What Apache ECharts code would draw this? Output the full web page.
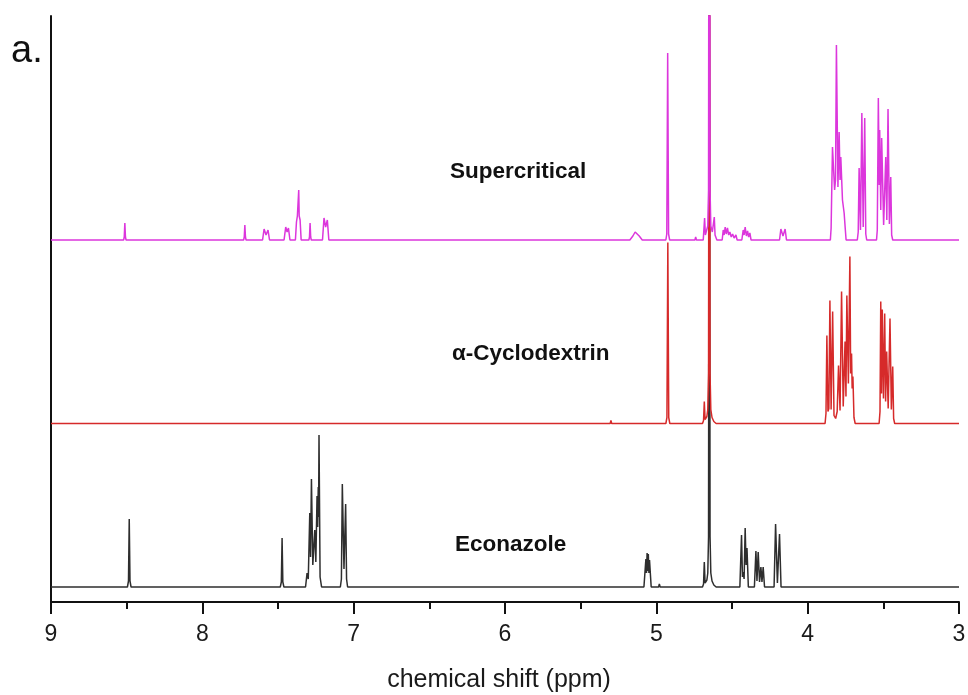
<!DOCTYPE html>
<html>
<head>
<meta charset="utf-8">
<script src="https://cdn.jsdelivr.net/npm/echarts@6/dist/echarts.min.js"></script>
<style>
  html, body { margin: 0; padding: 0; background: #fff; }
  #chart { width: 968px; height: 695px; }
</style>
</head>
<body>
<div id="chart"></div>
<script>
// 1H NMR spectra (D2O), chemical shift in ppm, intensity in arbitrary units.
// Each spectrum is a list of [ppm, intensity] vertices, ordered from high to low ppm.

const seriesNames = ['Econazole', 'α-Cyclodextrin', 'Supercritical'];

const econazole = [
  [9.0, 0],
  [8.495, 0], [8.488, 6], [8.483, 68], [8.478, 6], [8.471, 0],
  [7.485, 0], [7.478, 5], [7.473, 49], [7.468, 5], [7.461, 0],
  [7.318, 0], [7.308, 14], [7.300, 8], [7.290, 74], [7.285, 30], [7.279, 108], [7.270, 22],
  [7.257, 57], [7.250, 25], [7.242, 91], [7.238, 60], [7.234, 100], [7.232, 70], [7.229, 152],
  [7.222, 10], [7.212, 0],
  [7.088, 0], [7.081, 8], [7.075, 103], [7.064, 18], [7.053, 83], [7.047, 8], [7.040, 0],
  [5.082, 0], [5.069, 28], [5.065, 14], [5.061, 34], [5.057, 16], [5.053, 33], [5.049, 14],
  [5.045, 27], [5.034, 0],
  [4.985, 0], [4.980, 3], [4.975, 0],
  [4.695, 0], [4.688, 3], [4.683, 25], [4.678, 4], [4.666, 7], [4.660, 14], [4.655, 50],
  [4.650, 800], [4.645, 50], [4.640, 14], [4.632, 6], [4.620, 2], [4.605, 0],
  [4.448, 0], [4.437, 52], [4.431, 10], [4.426, 15], [4.420, 8], [4.413, 59], [4.407, 22],
  [4.401, 39], [4.392, 0],
  [4.352, 0], [4.342, 36], [4.335, 6], [4.327, 35], [4.318, 5], [4.309, 20], [4.302, 5],
  [4.294, 20], [4.285, 0],
  [4.222, 0], [4.212, 63], [4.200, 4], [4.186, 53], [4.176, 0],
  [3.0, 0]
];

const cyclodextrin = [
  [9.0, 0],
  [5.305, 0], [5.300, 3], [5.295, 0],
  [4.937, 0], [4.930, 6], [4.924, 181], [4.918, 6], [4.911, 0],
  [4.695, 0], [4.688, 3], [4.683, 22], [4.678, 4], [4.666, 7], [4.660, 14], [4.655, 50],
  [4.650, 800], [4.645, 50], [4.640, 14], [4.632, 6], [4.620, 2], [4.605, 0],
  [3.885, 0], [3.879, 10], [3.873, 88], [3.866, 12], [3.860, 15], [3.853, 123], [3.845, 14],
  [3.835, 112], [3.826, 8], [3.815, 5], [3.805, 12], [3.796, 58], [3.786, 13], [3.776, 132],
  [3.765, 17], [3.753, 82], [3.747, 27], [3.741, 128], [3.731, 40], [3.721, 167], [3.716, 50],
  [3.710, 70], [3.706, 35], [3.701, 47], [3.694, 6], [3.686, 0],
  [3.528, 0], [3.522, 12], [3.517, 122], [3.512, 30], [3.507, 114], [3.499, 25], [3.491, 110],
  [3.485, 22], [3.478, 72], [3.468, 15], [3.456, 105], [3.447, 14], [3.438, 57], [3.432, 5],
  [3.425, 0],
  [3.0, 0]
];

const supercritical = [
  [9.0, 0],
  [8.520, 0], [8.516, 3], [8.512, 17], [8.508, 3], [8.504, 0],
  [7.727, 0], [7.723, 3], [7.719, 15], [7.715, 3], [7.711, 0],
  [7.602, 0], [7.592, 11], [7.579, 5], [7.566, 10], [7.556, 0],
  [7.460, 0], [7.449, 13], [7.440, 8], [7.431, 12], [7.421, 0],
  [7.385, 0], [7.378, 18], [7.372, 24], [7.366, 22], [7.363, 50], [7.360, 24], [7.354, 20],
  [7.347, 0],
  [7.296, 0], [7.292, 3], [7.288, 17], [7.284, 3], [7.280, 0],
  [7.206, 0], [7.196, 22], [7.185, 13], [7.174, 20], [7.164, 0],
  [5.175, 0], [5.155, 4], [5.140, 8], [5.128, 8], [5.113, 4], [5.093, 0],
  [4.937, 0], [4.931, 6], [4.925, 187], [4.919, 6], [4.912, 0],
  [4.745, 0], [4.740, 3], [4.735, 0],
  [4.690, 0], [4.681, 22], [4.676, 5], [4.666, 7], [4.660, 14], [4.655, 50], [4.650, 800],
  [4.645, 50], [4.640, 14], [4.630, 8], [4.617, 23], [4.612, 5], [4.600, 0],
  [4.565, 0], [4.558, 10], [4.552, 5], [4.545, 13], [4.538, 6], [4.530, 12], [4.522, 5],
  [4.514, 8], [4.505, 3], [4.496, 6], [4.486, 2], [4.474, 5], [4.466, 0],
  [4.435, 0], [4.426, 10], [4.420, 5], [4.413, 13], [4.405, 4], [4.397, 9], [4.390, 3],
  [4.382, 7], [4.374, 0],
  [4.186, 0], [4.177, 11], [4.163, 4], [4.149, 11], [4.140, 0],
  [3.850, 0], [3.845, 12], [3.836, 93], [3.822, 50], [3.816, 60], [3.810, 195], [3.800, 53],
  [3.792, 108], [3.786, 60], [3.781, 83], [3.770, 40], [3.759, 27], [3.752, 12], [3.746, 0],
  [3.672, 0], [3.666, 8], [3.660, 72], [3.651, 10], [3.642, 127], [3.633, 13], [3.623, 122],
  [3.616, 6], [3.610, 0],
  [3.545, 0], [3.540, 10], [3.533, 142], [3.527, 55], [3.524, 110], [3.517, 30], [3.511, 102],
  [3.498, 15], [3.484, 83], [3.477, 20], [3.469, 131], [3.460, 16], [3.451, 63], [3.445, 5],
  [3.438, 0],
  [3.0, 0]
];

const xTickLabels = ['3', '4', '5', '6', '7', '8', '9'];

// ---- rendering ----
const FONT = "'Liberation Sans', Arial, Helvetica, sans-serif";
const spectra = [econazole, cyclodextrin, supercritical];
const colors = ['#2e2e2e', '#d62a2a', '#dc36dc'];
const stackOffset = [15, 178.5, 362]; // vertical offset of each trace in the stack

const series = spectra.map((pts, i) => ({
  name: seriesNames[i],
  type: 'line',
  data: pts.map(p => [p[0], p[1] + stackOffset[i]]),
  showSymbol: false,
  symbol: 'none',
  clip: true,
  lineStyle: { color: colors[i], width: 1.5 },
  emphasis: { disabled: true },
  z: 2 + i
}));

const chart = echarts.init(document.getElementById('chart'), null, { renderer: 'canvas' });
chart.setOption({
  animation: false,
  backgroundColor: '#ffffff',
  grid: { left: 51, right: 9, top: 16, bottom: 93, containLabel: false, outerBoundsMode: 'none' },
  xAxis: {
    type: 'value',
    min: 3,
    max: 9,
    interval: 1,
    inverse: true,
    name: 'chemical shift (ppm)',
    nameLocation: 'middle',
    nameGap: 66,
    nameTextStyle: { fontFamily: FONT, fontSize: 25, color: '#1a1a1a', padding: [0, 12, 0, 0] },
    axisLine: { onZero: false, lineStyle: { color: '#111', width: 2 } },
    axisTick: { show: true, length: 12, lineStyle: { color: '#111', width: 2 } },
    minorTick: { show: true, splitNumber: 2, length: 7, lineStyle: { color: '#111', width: 2 } },
    axisLabel: {
      fontFamily: FONT, fontSize: 23, color: '#1a1a1a', margin: 21,
      formatter: v => xTickLabels.find(t => Number(t) === v) || ''
    },
    splitLine: { show: false }
  },
  yAxis: {
    type: 'value',
    min: 0,
    max: 586,
    axisLine: { show: true, onZero: false, lineStyle: { color: '#111', width: 2 } },
    axisTick: { show: false },
    axisLabel: { show: false },
    splitLine: { show: false }
  },
  series: series,
  graphic: [
    { type: 'text', x: 11, y: 52, style: { text: 'a.', font: '38px ' + FONT, fill: '#111', verticalAlign: 'middle' } },
    { type: 'text', x: 450, y: 172, style: { text: seriesNames[2], font: 'bold 22.5px ' + FONT, fill: '#111', verticalAlign: 'middle' } },
    { type: 'text', x: 452, y: 354, style: { text: seriesNames[1], font: 'bold 22.5px ' + FONT, fill: '#111', verticalAlign: 'middle' } },
    { type: 'text', x: 455, y: 545, style: { text: seriesNames[0], font: 'bold 22.5px ' + FONT, fill: '#111', verticalAlign: 'middle' } }
  ]
});
</script>
</body>
</html>
